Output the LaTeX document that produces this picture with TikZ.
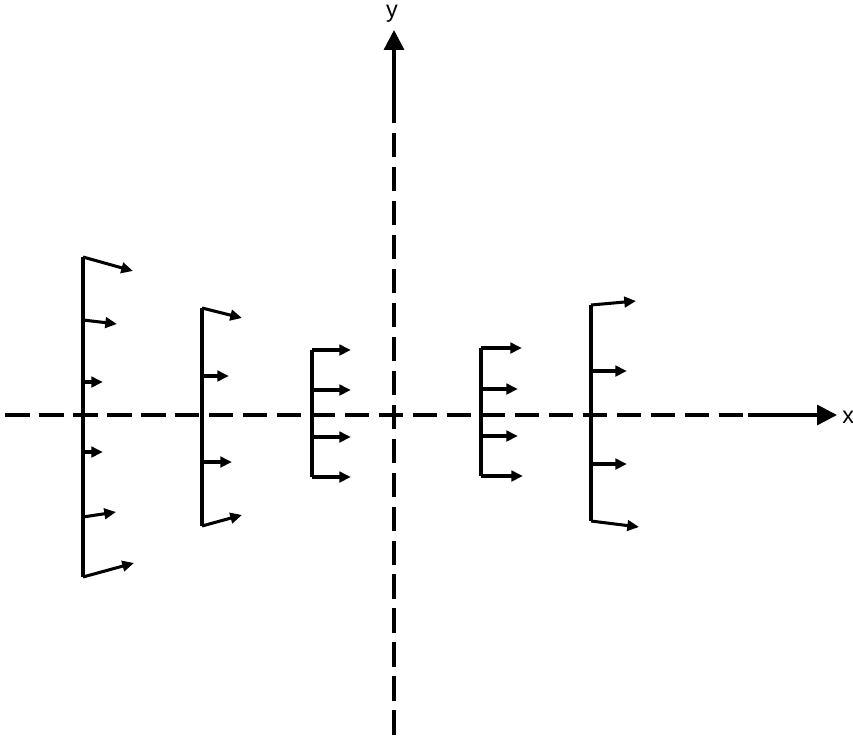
\documentclass[tikz,border=0pt]{standalone}
\usepackage{fontspec}
\setmainfont{Liberation Sans}
\usetikzlibrary{arrows.meta}

\begin{document}
\begin{tikzpicture}[x=0.03cm,y=-0.03cm,
          axisdash/.style={line width=2.8pt,dash pattern=on 21pt off 8pt},
          axisline/.style={line width=2.8pt,-{Triangle[length=17pt,width=17pt]}},
          rib/.style={line width=2.8pt},
          vel/.style={line width=2.6pt,-{Triangle[length=10pt,width=9pt]}},
          lbl/.style={font=\fontsize{20}{24}\selectfont,inner sep=0pt}
        ]
        \useasboundingbox (0,0) rectangle (853,738);
        % axes
        \coordinate (xstart) at (5,415);
        \coordinate (xsolid) at (748,415);
        \coordinate (xend) at (837,415);
        \coordinate (ystart) at (394,735);
        \coordinate (ysolid) at (394,110);
        \coordinate (yend) at (394,30);
        \draw[axisdash] (xstart) -- (xsolid);
        \draw[axisline] (xsolid) -- (xend);
        \draw[axisdash] (ystart) -- (ysolid);
        \draw[axisline] (ysolid) -- (yend);
        \node[lbl,anchor=west] (xlabel) at (842,417) {x};
        \node[lbl] (ylabel) at (392,14) {y};
        % velocity profiles
        \draw[rib] (83,257) -- (83,577);
        \foreach \ya/\xb/\yb in {257/133/271,320/117/324,382/103/382,
            452/103/452,517/116/512,577/134/563}
          \draw[vel] (83,\ya) -- (\xb,\yb);
        \draw[rib] (202,308) -- (202,526);
        \foreach \ya/\xb/\yb in {308/242/318,376/229/376,462/232/462,526/242/515}
          \draw[vel] (202,\ya) -- (\xb,\yb);
        \draw[rib] (312,350) -- (312,477);
        \foreach \ya in {350,390,437,477}
          \draw[vel] (312,\ya) -- (351,\ya);
        \draw[rib] (481,348) -- (481,476);
        \foreach \ya/\xb in {348/522,389/518,436/518,476/523}
          \draw[vel] (481,\ya) -- (\xb,\ya);
        \draw[rib] (591,305) -- (591,521);
        \foreach \ya/\xb/\yb in {305/636/301,371/627/371,464/627/464,521/639/527}
          \draw[vel] (591,\ya) -- (\xb,\yb);
      \end{tikzpicture}
\end{document}
